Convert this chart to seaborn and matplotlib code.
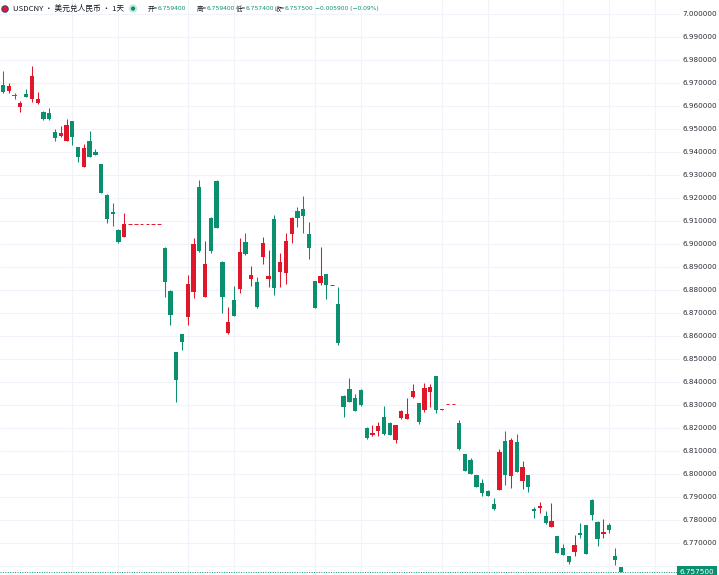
import numpy as np
import pandas as pd
import seaborn as sns
import matplotlib.pyplot as plt
import matplotlib.patheffects as pe

# daily USDCNY candles (flat rows = non-trading days, drawn as dashes)
opens = [6.9689, 6.9663, 6.9644, 6.9594, 6.9650, 6.9629, 6.9610, 6.9573, 6.9569, 6.9487,
         6.9469, 6.9446, 6.9533, 6.9419, 6.9334, 6.9447, 6.9398, 6.9345, 6.9212, 6.9139,
         6.9060, 6.9030,
         6.9084, 6.9084, 6.9084, 6.9084, 6.9084, 6.9084,
         6.8983, 6.8796, 6.8528, 6.8606, 6.8683, 6.8789, 6.9248, 6.8770, 6.9113, 6.9272,
         6.8921, 6.8611, 6.8755, 6.8803, 6.9009, 6.8847, 6.8832, 6.8941, 6.8847, 6.9109,
         6.8878, 6.8871, 6.9041, 6.9142, 6.9149, 6.9041, 6.8838, 6.8828, 6.8867,
         6.8822,
         6.8737, 6.8340, 6.8367, 6.8328, 6.8364, 6.8201, 6.8168, 6.8188, 6.8246, 6.8222,
         6.8147, 6.8242, 6.8239, 6.8333, 6.8307, 6.8278, 6.8354, 6.8425, 6.8277,
         6.8302, 6.8302,
         6.8222, 6.8085, 6.8060, 6.7995, 6.7962, 6.7926, 6.7868, 6.7930, 6.8143, 6.7991,
         6.8140, 6.7969, 6.7995, 6.7846, 6.7853, 6.7817, 6.7771, 6.7730, 6.7677, 6.7643,
         6.7662, 6.7742, 6.7778, 6.7887, 6.7792, 6.7739, 6.7778, 6.7643, 6.7594]
highs = [6.9750, 6.9699, 6.9655, 6.9621, 6.9672, 6.9772, 6.9659, 6.9578, 6.9589, 6.9498,
         6.9511, 6.9542, 6.9535, 6.9421, 6.9433, 6.9491, 6.9411, 6.9347, 6.9214, 6.9176,
         6.9062, 6.9135,
         6.9084, 6.9084, 6.9084, 6.9084, 6.9084, 6.9084,
         6.8985, 6.8798, 6.8530, 6.8608, 6.8864, 6.9026, 6.9277, 6.9013, 6.9115, 6.9277,
         6.8923, 6.8726, 6.8818, 6.9026, 6.9048, 6.8903, 6.8857, 6.9030, 6.8973, 6.9125,
         6.8958, 6.9045, 6.9115, 6.9158, 6.9207, 6.9096, 6.8840, 6.8984, 6.8869,
         6.8822,
         6.8813, 6.8343, 6.8415, 6.8346, 6.8367, 6.8205, 6.8212, 6.8227, 6.8295, 6.8224,
         6.8214, 6.8277, 6.8328, 6.8389, 6.8309, 6.8394, 6.8390, 6.8427, 6.8280,
         6.8302, 6.8302,
         6.8234, 6.8087, 6.8070, 6.7997, 6.7978, 6.7928, 6.7894, 6.8107, 6.8188, 6.8157,
         6.8172, 6.8057, 6.7997, 6.7857, 6.7879, 6.7840, 6.7872, 6.7732, 6.7694, 6.7645,
         6.7735, 6.7788, 6.7780, 6.7889, 6.7794, 6.7803, 6.7788, 6.7677, 6.7594]
lows = [6.9655, 6.9653, 6.9629, 6.9573, 6.9636, 6.9616, 6.9608, 6.9538, 6.9538, 6.9447,
        6.9464, 6.9444, 6.9429, 6.9356, 6.9332, 6.9376, 6.9385, 6.9220, 6.9091, 6.9078,
        6.9002, 6.9027,
        6.9084, 6.9084, 6.9084, 6.9084, 6.9084, 6.9084,
        6.8770, 6.8647, 6.8314, 6.8538, 6.8647, 6.8763, 6.8966, 6.8768, 6.8958, 6.9068,
        6.8698, 6.8609, 6.8684, 6.8787, 6.8953, 6.8818, 6.8722, 6.8911, 6.8813, 6.8777,
        6.8813, 6.8825, 6.9004, 6.9074, 6.9045, 6.8932, 6.8720, 6.8821, 6.8760,
        6.8822,
        6.8560, 6.8246, 6.8312, 6.8273, 6.8297, 6.8153, 6.8165, 6.8165, 6.8171, 6.8167,
        6.8136, 6.8240, 6.8237, 6.8331, 6.8217, 6.8270, 6.8292, 6.8263, 6.8276,
        6.8302, 6.8302,
        6.8105, 6.8012, 6.7998, 6.7942, 6.7904, 6.7902, 6.7844, 6.7928, 6.7952, 6.7937,
        6.8008, 6.7934, 6.7923, 6.7807, 6.7831, 6.7783, 6.7769, 6.7656, 6.7646, 6.7609,
        6.7643, 6.7720, 6.7650, 6.7800, 6.7687, 6.7720, 6.7742, 6.7604, 6.7574]
closes = [6.9658, 6.9686, 6.9642, 6.9611, 6.9637, 6.9730, 6.9630, 6.9540, 6.9540, 6.9460,
          6.9482, 6.9516, 6.9462, 6.9378, 6.9414, 6.9378, 6.9387, 6.9222, 6.9106, 6.9130,
          6.9007, 6.9084,
          6.9084, 6.9084, 6.9084, 6.9084, 6.9084, 6.9084,
          6.8835, 6.8690, 6.8408, 6.8574, 6.8824, 6.8999, 6.8968, 6.8911, 6.8970, 6.9070,
          6.8767, 6.8659, 6.8686, 6.8963, 6.8955, 6.8863, 6.8724, 6.9002, 6.8860, 6.8809,
          6.8921, 6.9012, 6.9113, 6.9113, 6.9120, 6.8983, 6.8722, 6.8861, 6.8821,
          6.8822,
          6.8567, 6.8292, 6.8314, 6.8275, 6.8299, 6.8155, 6.8176, 6.8208, 6.8173, 6.8169,
          6.8212, 6.8275, 6.8260, 6.8360, 6.8224, 6.8372, 6.8379, 6.8278, 6.8279,
          6.8302, 6.8302,
          6.8107, 6.8014, 6.8000, 6.7944, 6.7916, 6.7904, 6.7846, 6.8096, 6.7995, 6.8147,
          6.8010, 6.8029, 6.7944, 6.7839, 6.7862, 6.7785, 6.7795, 6.7658, 6.7648, 6.7619,
          6.7691, 6.7735, 6.7652, 6.7821, 6.7716, 6.7749, 6.7756, 6.7626, 6.7575]

price_ticks = [6.76, 6.77, 6.78, 6.79, 6.80, 6.81, 6.82, 6.83, 6.84, 6.85, 6.86, 6.87, 6.88,
               6.89, 6.90, 6.91, 6.92, 6.93, 6.94, 6.95, 6.96, 6.97, 6.98, 6.99, 7.00]
time_grid = [12, 20, 32, 40, 54, 62, 76, 84, 97, 105, 113]
last_price = 6.7575

GREEN = '#0a8f6f'
RED = '#e0162b'

df = pd.DataFrame({'open': opens, 'high': highs, 'low': lows, 'close': closes})
df['x'] = np.arange(len(df))
df['up'] = df['close'] >= df['open']
df['flat'] = df['high'] == df['low']
df['color'] = np.where(df['up'], RED, GREEN)

sns.set_style('white')
plt.rcParams['font.family'] = ['Noto Sans CJK SC', 'DejaVu Sans']

W, H = 719, 575
fig = plt.figure(figsize=(W / 100, H / 100), dpi=100)
ax = fig.add_axes([0, 0, 680 / W, 1])

# grid
for p in price_ticks:
    ax.axhline(p, color='#f0f3fa', lw=0.8, zorder=0)
for g in time_grid:
    ax.axvline(g, color='#f0f3fa', lw=0.8, zorder=0)

bars = df[~df['flat']]
ax.vlines(bars['x'], bars['low'], bars['high'], colors=bars['color'], lw=0.75, zorder=2)
body_h = np.maximum((bars['close'] - bars['open']).abs(), 0.0005)
body_b = np.minimum(bars['open'], bars['close'])
ax.bar(bars['x'], body_h, bottom=body_b, width=0.74, color=bars['color'], lw=0, zorder=3)

flats = df[df['flat']]
ax.hlines(flats['close'], flats['x'] - 0.3, flats['x'] + 0.3, colors=RED, lw=0.7, zorder=3)

# last price line
ax.axhline(last_price, color=GREEN, lw=0.7, ls=(0, (1, 1.5)), zorder=1)

ax.set_xlim(-0.52, 117.27)
ax.set_ylim(7.0 - 561.5 / 2302, 7.0 + 13.5 / 2302)
ax.yaxis.tick_right()
ax.set_yticks(price_ticks[1:])
ax.set_yticklabels(['%.6f' % p for p in price_ticks[1:]], fontsize=5.2,
                   color='#2a2e39', family='DejaVu Sans')
ax.tick_params(axis='y', length=0, pad=2)
ax.set_xticks([])
for s in ax.spines.values():
    s.set_visible(False)

ax.text(1.0, last_price, '%.6f' % last_price, transform=ax.get_yaxis_transform(),
        ha='left', va='center', fontsize=5.2, color='white', family='DejaVu Sans',
        bbox=dict(boxstyle='square,pad=0.35', fc=GREEN, ec='none'))

# header
ty = 1 - 8.5 / H
fig.text(5 / W, ty, '●', color='#d81e2b', fontsize=5.5, ha='center', va='center',
         family='DejaVu Sans', path_effects=[pe.withStroke(linewidth=1.2, foreground='#1f3f8f')])
fig.text(13 / W, ty, 'USDCNY · 美元兑人民币 · 1天', color='#131722', fontsize=5.6,
         ha='left', va='center')
fig.text(133 / W, ty, '●', color=GREEN, fontsize=4, ha='center', va='center',
         family='DejaVu Sans', path_effects=[pe.withStroke(linewidth=3, foreground='#c6e9e0')])

ohlc = [('开=', 148, 6.759400), ('高=', 197, 6.759400), ('低=', 236, 6.757400), ('收=', 275, 6.757500)]
for lab, px, val in ohlc:
    fig.text(px / W, ty, lab, color='#131722', fontsize=4.6, ha='left', va='center')
    fig.text((px + 10) / W, ty, '%.6f' % val, color=GREEN, fontsize=4.3, ha='left',
             va='center', family='DejaVu Sans')
fig.text(315 / W, ty, '−0.005900 (−0.09%)', color=GREEN, fontsize=4.3, ha='left',
         va='center', family='DejaVu Sans')

fig.savefig('out.png', dpi=100)
